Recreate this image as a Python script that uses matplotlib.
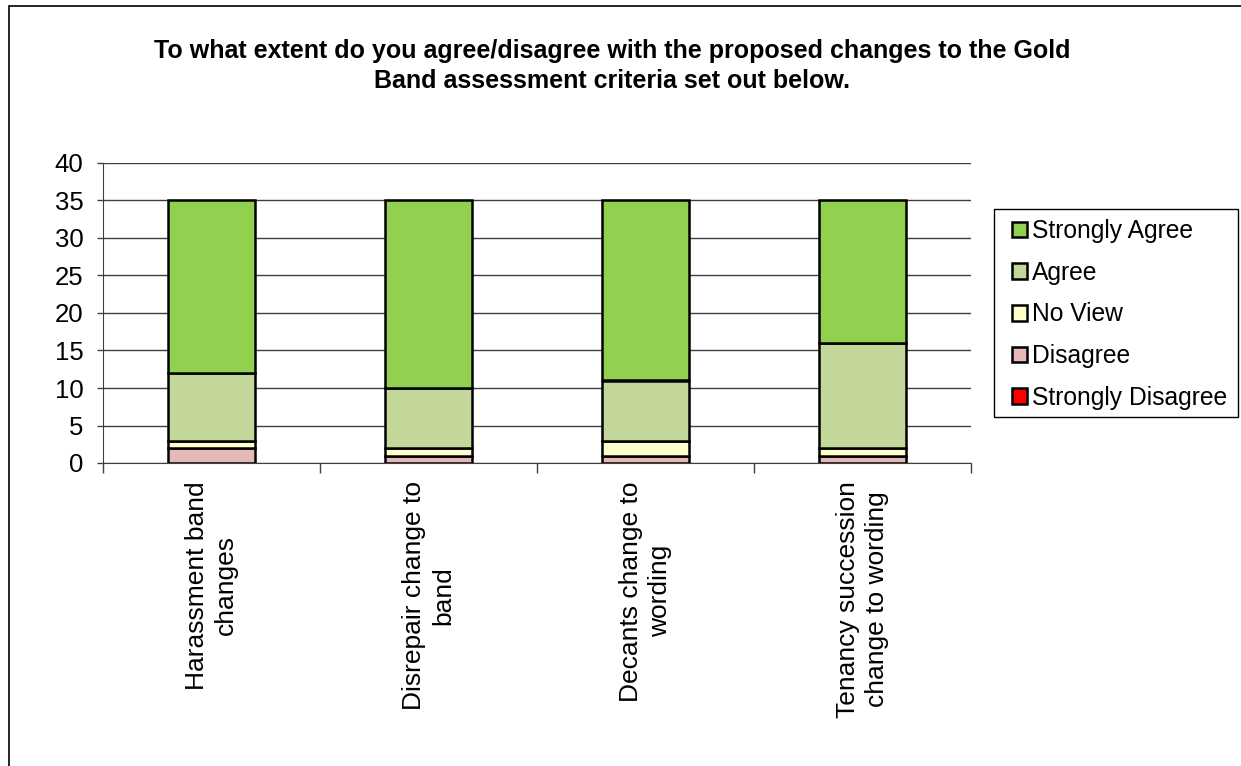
import matplotlib
matplotlib.use("Agg")
import matplotlib.pyplot as plt
from matplotlib.patches import Rectangle
import numpy as np

categories = ["Harassment band\nchanges", "Disrepair change to\nband",
              "Decants change to\nwording", "Tenancy succession\nchange to wording"]
series_names = ["Strongly Disagree", "Disagree", "No View", "Agree", "Strongly Agree"]
strongly_disagree = [0, 0, 0, 0]
disagree = [2, 1, 1, 1]
no_view = [1, 1, 2, 1]
agree = [9, 8, 8, 14]
strongly_agree = [23, 25, 24, 19]
colors = ["#FF0000", "#E6B9B8", "#FFFFCC", "#C4D79B", "#92D050"]
yticks = [0, 5, 10, 15, 20, 25, 30, 35, 40]
title = "To what extent do you agree/disagree with the proposed changes to the Gold\nBand assessment criteria set out below."

plt.rcParams['font.family'] = ['Liberation Sans', 'DejaVu Sans']

W, H = 1241, 766
fig = plt.figure(figsize=(W / 100, H / 100), dpi=100)
ax = fig.add_axes([103/W, 1-463/H, (971-103)/W, (463-163)/H])

x = np.arange(len(categories))
bottom = np.zeros(len(categories))
handles = []
for name, vals, c in zip(series_names, [strongly_disagree, disagree, no_view, agree, strongly_agree], colors):
    vals = np.array(vals, dtype=float)
    h = ax.bar(x, vals, bottom=bottom, width=0.4, color=c, edgecolor="black", linewidth=1.8,
               label=name, zorder=3)
    handles.append(h)
    bottom += vals

ax.set_xlim(-0.5, len(categories) - 0.5)
ax.set_ylim(0, 40)
ax.set_yticks(yticks)
ax.tick_params(axis='y', labelsize=18.5, length=4, width=1, color="#404040", pad=10)
ax.yaxis.grid(True, color="#404040", linewidth=1, zorder=0)
ax.set_xticks(x)
ax.set_xticklabels(categories, rotation=90, fontsize=19, ha='center', va='top',
                   multialignment='center', linespacing=1.3)
ax.tick_params(axis='x', which='major', length=0, pad=13)
ax.set_xticks(np.arange(-0.5, len(categories), 1.0), minor=True)
ax.tick_params(axis='x', which='minor', length=7, width=1, color="#404040")
for s in ["top", "right"]:
    ax.spines[s].set_visible(False)
ax.spines["left"].set_color("#404040")
ax.spines["bottom"].set_color("#404040")

fig.text(612/W, 1-66/H, title, ha='center', va='center', fontsize=18, fontweight='bold',
         linespacing=1.3)

# legend frame
fig.patches.append(Rectangle((994/W, 1-417/H), (1238-994)/W, (417-209)/H, transform=fig.transFigure,
                             fill=False, edgecolor="black", linewidth=1))
leg = ax.legend(handles[::-1], series_names[::-1], loc='upper left',
                bbox_to_anchor=(1012/W, 1-219/H), bbox_transform=fig.transFigure,
                fontsize=17.7, frameon=False,
                handlelength=0.62, handleheight=0.6, handletextpad=0.2,
                labelspacing=0.72, borderpad=0, borderaxespad=0)

fig.patches.append(Rectangle((9/W, -0.1), 1.2, 1 - 6/H + 0.1, transform=fig.transFigure,
                             fill=False, edgecolor="black", linewidth=1.2))

fig.savefig("out.png", dpi=100)
